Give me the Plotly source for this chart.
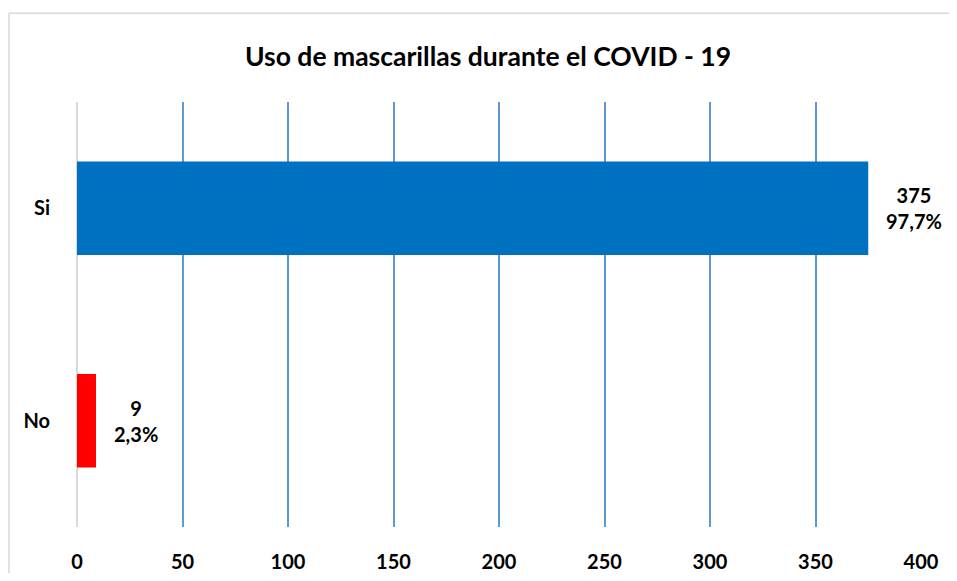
import plotly.graph_objects as go

# data
categories = ["No", "Si"]
counts = [9, 375]
percents = ["2,3%", "97,7%"]
bar_colors = ["#FF0000", "#0070C0"]
x_ticks = [0, 50, 100, 150, 200, 250, 300, 350, 400]

FONT = "Lato"
W, H = 941, 565  # page body has an 8px margin; keep the page from overflowing

fig = go.Figure()
fig.add_trace(go.Bar(
    y=categories, x=counts, orientation="h",
    marker=dict(color=bar_colors, line=dict(width=0)),
    width=0.44, hoverinfo="skip",
))

# value labels to the right of each bar
for cat, val, pct in zip(categories, counts, percents):
    fig.add_annotation(
        x=val, y=cat, xref="x", yref="y",
        text=f"{val}<br>{pct}", showarrow=False,
        xanchor="left", xshift=16, align="center",
        font=dict(family=FONT, size=20, color="#000000", weight="bold"),
    )

# light gray chart border: only the left and top edges are in the picture
border = dict(color="#D9D9D9", width=1.5)
fig.add_shape(type="line", xref="paper", yref="paper",
              x0=-0.0806, x1=-0.0806, y0=-0.2, y1=1.209, line=border, layer="below")
fig.add_shape(type="line", xref="paper", yref="paper",
              x0=-0.0806, x1=1.05, y0=1.209, y1=1.209, line=border, layer="below")

fig.update_layout(
    width=W, height=H,
    margin=dict(l=69, r=28, t=94, b=46, autoexpand=False),
    paper_bgcolor="white", plot_bgcolor="white",
    showlegend=False,
    title=dict(
        text="Uso de mascarillas durante el COVID - 19",
        x=480 / W, xanchor="center",
        y=1 - 49 / H, yanchor="middle",
        font=dict(family=FONT, size=26.5, color="#000000", weight="bold"),
    ),
    font=dict(family=FONT, size=20, color="#000000"),
)
fig.update_xaxes(
    range=[0, 400], tickvals=x_ticks,
    showgrid=True, gridcolor="#5B9BD5", gridwidth=1.5,
    zeroline=True, zerolinecolor="#D9D9D9", zerolinewidth=2,
    ticks="outside", ticklen=17, tickcolor="rgba(0,0,0,0)",
    tickfont=dict(family=FONT, size=20, color="#000000", weight="bold"),
    showline=False,
)
fig.update_yaxes(
    showgrid=False, zeroline=False, showline=False,
    ticks="outside", ticklen=22, tickcolor="rgba(0,0,0,0)",
    tickfont=dict(family=FONT, size=20, color="#000000", weight="bold"),
)

fig.write_html("out.html")
